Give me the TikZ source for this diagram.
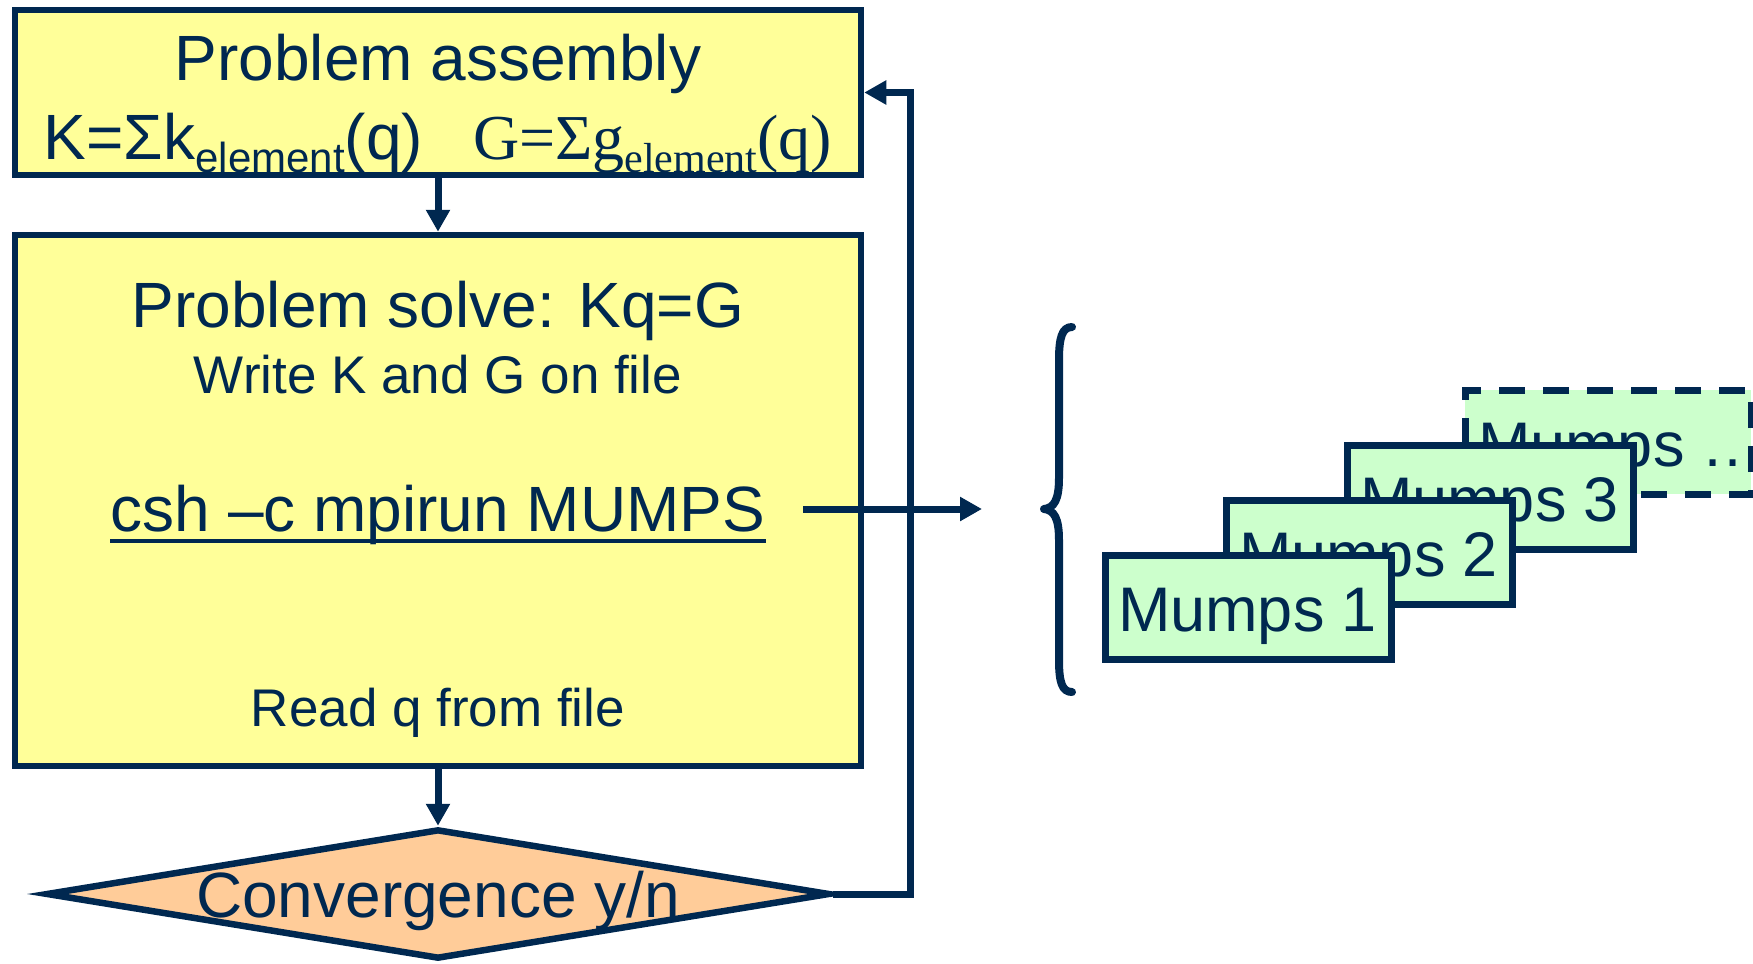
\documentclass[tikz,border=0pt]{standalone}
\usepackage{fontspec}
\setmainfont{Liberation Sans}
\newfontfamily\tmsfont{Liberation Serif}
\usetikzlibrary{arrows.meta,shapes.geometric}
\definecolor{navy}{HTML}{002850}
\definecolor{paleyellow}{HTML}{FFFF99}
\definecolor{peach}{HTML}{FFCC99}
\definecolor{mint}{HTML}{CCFFCC}
\newcommand{\fsz}[1]{\fontsize{#1pt}{#1pt}\selectfont}
\newcommand{\workerlabel}[1]{\makebox[130pt][l]{#1}}
\begin{document}
\begin{tikzpicture}[x=0.5pt,y=-0.5pt,
  stage/.style={rectangle, draw=navy, fill=paleyellow, line width=3.25pt, inner sep=0pt},
  txt/.style={inner sep=0pt, anchor=base, text=navy},
  flow/.style={draw=navy, line width=3.5pt, -{Triangle[length=11pt,width=11.5pt]}},
  worker/.style={rectangle, draw=navy, fill=mint, line width=3.5pt, text=navy,
    minimum width=143pt, minimum height=52pt, inner xsep=6.5pt, inner ysep=0pt,
    text height=24pt, text depth=0pt, font=\fsz{31.5}}]
\useasboundingbox (0,0) rectangle (1753,964);

% flowchart boxes
\node[stage, minimum width=423pt, minimum height=82.5pt] (asm) at (438,92.5) {};
\node[stage, minimum width=423pt, minimum height=265.5pt] (solve) at (438,500.5) {};
\node[diamond, draw=navy, fill=peach, line width=3.25pt, inner sep=0pt,
      minimum width=392pt, minimum height=65pt] (conv) at (438,894) {};

% texts
\node[txt, font=\fsz{32}] (asmtitle) at (438,80.5) {Problem assembly};
\node[txt, font=\fsz{32}] (asmeq) at (438,159)
  {K=Σk\raisebox{-6.5pt}{\fsz{21}element}(q)\hspace{25pt}{\tmsfont G=Σg\raisebox{-6.5pt}{\fsz{21}element}(q)}};
\node[txt, font=\fsz{32}] (solvetitle) at (438,327.5) {Problem solve: Kq=G};
\node[txt, font=\fsz{26.5}] (writefile) at (438,393.5) {Write K and G on file};
\node[txt, font=\fsz{32}] (cmd) at (438,531) {csh –c mpirun MUMPS};
\draw[navy, line width=1.75pt] ([yshift=-5pt]cmd.base west) -- ([yshift=-5pt]cmd.base east);
\node[txt, font=\fsz{26.5}] (readq) at (438,726) {Read q from file};
\node[txt, font=\fsz{32}] (convtext) at (438,917) {Convergence y/n};

% connectors
\coordinate (loop) at (910,0);
\coordinate (cmdout) at (803,509);
\coordinate (fanout) at (982,509);
\draw[flow] (asm.south) -- (solve.north);
\draw[flow] (solve.south) -- (conv.north);
\draw[flow] (conv.east) -- (conv.east -| loop) -- (loop |- asm.east) -- (asm.east);
\draw[flow] (cmdout) -- (fanout);

% brace
\draw[navy, line width=4pt, line join=round, line cap=round]
  (1072,327) .. controls (1062,327) and (1059,338) .. (1059,360)
  -- (1059,478) .. controls (1059,500) and (1054,508) .. (1044,509)
  .. controls (1054,510) and (1059,518) .. (1059,540)
  -- (1059,660) .. controls (1059,682) and (1062,692) .. (1072,692);

% parallel solver instances, back to front
\node[worker, dash pattern=on 13pt off 9pt] (m4) at (1608,442) {\workerlabel{Mumps …}};
\node[worker] (m3) at (1490,497) {\workerlabel{Mumps 3}};
\node[worker] (m2) at (1369,552) {\workerlabel{Mumps 2}};
\node[worker] (m1) at (1248,607) {\workerlabel{Mumps 1}};
\end{tikzpicture}
\end{document}
